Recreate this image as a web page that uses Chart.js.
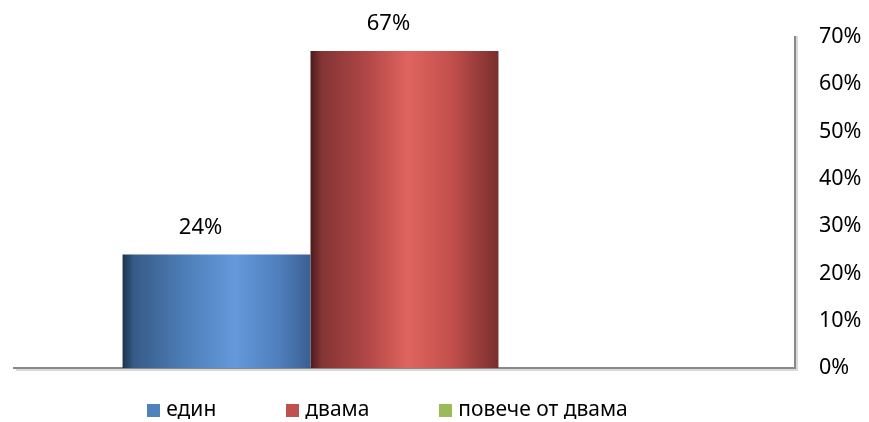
<!DOCTYPE html>
<html>
<head>
<meta charset="utf-8">
<script src="https://cdn.jsdelivr.net/npm/chart.js@4/dist/chart.umd.min.js"></script>
<style>
  html, body { margin: 0; padding: 0; background: #fff; }
  #wrap { width: 869px; height: 422px; }
</style>
</head>
<body>
<div id="wrap"><canvas id="c" width="869" height="422"></canvas></div>
<script>
  // chart data
  var categories = [""];
  var seriesNames = ["един", "двама", "повече от двама"];
  var seriesValues = [[0.24], [0.67], [0]];
  var seriesColors = ["#4f81bd", "#c0504d", "#9bbb59"];
  var yTicks = [0, 0.1, 0.2, 0.3, 0.4, 0.5, 0.6, 0.7];

  // horizontal "cylinder" shading, one list of stops per series
  var shadeStops = [
    [[0, "#1c3350"], [0.06, "#365b88"], [0.35, "#4f80bb"], [0.6, "#6499dc"], [0.85, "#4d7cb9"], [1, "#3a5f90"]],
    [[0, "#4e1b1b"], [0.06, "#843434"], [0.3, "#b04746"], [0.52, "#e0645f"], [0.75, "#c24f4c"], [1, "#7a2e2e"]],
    [[0, "#4d6a25"], [0.5, "#b4d57a"], [1, "#6d8a3a"]]
  ];

  var FONT = "'Noto Sans', 'Liberation Sans', sans-serif";

  var datasets = seriesNames.map(function(name, i) {
    return {
      label: name,
      data: seriesValues[i],
      backgroundColor: seriesColors[i],
      borderWidth: 0,
      barPercentage: 1,
      categoryPercentage: 0.722
    };
  });

  // swap the flat fill for a gradient while the bars are painted
  var barShade = {
    id: "barShade",
    beforeDatasetDraw: function(chart, args) {
      var ctx = chart.ctx;
      var stops = shadeStops[args.index];
      args.meta.data.forEach(function(el) {
        var x0 = el.x - el.width / 2, x1 = el.x + el.width / 2;
        var g = ctx.createLinearGradient(x0, 0, x1, 0);
        stops.forEach(function(s) { g.addColorStop(s[0], s[1]); });
        el._flat = el.options.backgroundColor;
        el.options.backgroundColor = g;
      });
    },
    afterDatasetDraw: function(chart, args) {
      args.meta.data.forEach(function(el) {
        if (el._flat) el.options.backgroundColor = el._flat;
      });
    }
  };

  // soft shadow behind the two axis lines
  var axisShadow = {
    id: "axisShadow",
    beforeDatasetsDraw: function(chart) {
      var a = chart.chartArea, ctx = chart.ctx;
      ctx.save();
      ctx.strokeStyle = "rgba(0,0,0,0.15)";
      ctx.lineWidth = 2;
      ctx.beginPath();
      ctx.moveTo(a.left + 2, a.bottom + 2);
      ctx.lineTo(a.right + 2, a.bottom + 2);
      ctx.lineTo(a.right + 2, a.top - 1);
      ctx.stroke();
      ctx.restore();
    }
  };

  // percentage labels above the bars
  var valueLabels = {
    id: "valueLabels",
    afterDatasetsDraw: function(chart) {
      var ctx = chart.ctx;
      ctx.save();
      ctx.font = "22px " + FONT;
      ctx.fillStyle = "#000";
      ctx.textAlign = "center";
      ctx.textBaseline = "middle";
      chart.data.datasets.forEach(function(ds, i) {
        chart.getDatasetMeta(i).data.forEach(function(el, j) {
          var v = ds.data[j];
          if (!v) return;
          ctx.fillText(Math.round(v * 100) + "%", el.x - 16, el.y - 27);
        });
      });
      ctx.restore();
    }
  };

  // Excel-like legend: wide gaps between entries, tight vertically
  var wideLegend = {
    id: "wideLegend",
    afterDraw: function(chart) {
      var ctx = chart.ctx, a = chart.chartArea;
      var box = 13, gap = 6, spacing = 70, y = 410;
      ctx.save();
      ctx.font = "21px " + FONT;
      ctx.textBaseline = "middle";
      var widths = chart.data.datasets.map(function(ds) { return box + gap + ctx.measureText(ds.label).width; });
      var total = widths.reduce(function(s, w) { return s + w; }, 0) + spacing * (widths.length - 1);
      var x = (a.left + a.right) / 2 - 17 - total / 2;
      chart.data.datasets.forEach(function(ds, i) {
        ctx.fillStyle = ds.backgroundColor;
        ctx.fillRect(Math.round(x), y - 6, box, box);
        ctx.fillStyle = "#000";
        ctx.fillText(ds.label, x + box + gap, y);
        x += widths[i] + spacing;
      });
      ctx.restore();
    }
  };

  new Chart(document.getElementById("c"), {
    type: "bar",
    data: { labels: categories, datasets: datasets },
    options: {
      responsive: false,
      animation: false,
      layout: { padding: { left: 14, top: 35, right: 0, bottom: 50 } },
      scales: {
        x: {
          grid: { display: false, drawTicks: false },
          border: { display: true, color: "#898989", width: 2 },
          ticks: { display: false },
          afterFit: function(s) { s.height = 4; }
        },
        y: {
          position: "right",
          min: 0,
          max: 0.7,
          afterBuildTicks: function(s) { s.ticks = yTicks.map(function(v) { return { value: v }; }); },
          grid: { display: false, drawTicks: false },
          border: { display: true, color: "#898989", width: 2 },
          ticks: {
            padding: 24,
            color: "#000",
            font: { family: FONT, size: 21.5 },
            callback: function(v) { return Math.round(v * 100) + "%"; }
          },
          afterFit: function(s) { s.width = 74; }
        }
      },
      plugins: {
        legend: { display: false },
        tooltip: { enabled: false }
      }
    },
    plugins: [barShade, axisShadow, valueLabels, wideLegend]
  });
</script>
</body>
</html>
